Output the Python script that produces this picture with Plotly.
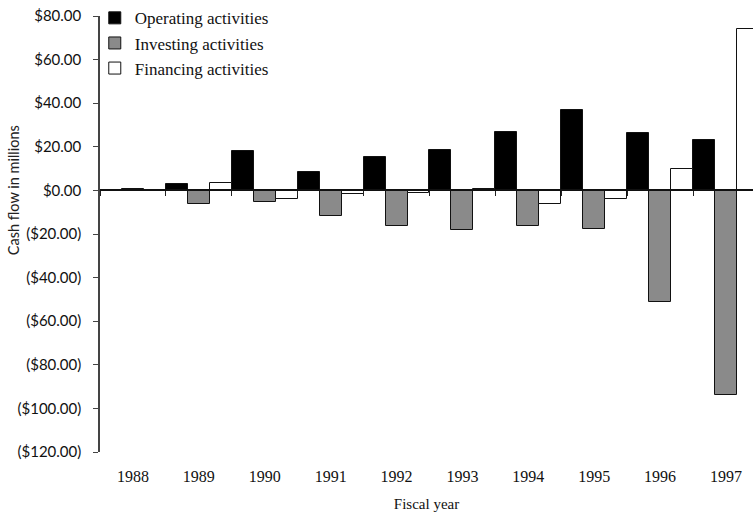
import plotly.graph_objects as go

# Fiscal years and cash flows (in $ millions)
years = ["1988", "1989", "1990", "1991", "1992", "1993", "1994", "1995", "1996", "1997"]
operating = [0.3, 3.1, 17.9, 8.4, 15.3, 18.4, 27.0, 36.9, 26.3, 22.9]
investing = [0.6, -6.1, -5.3, -11.9, -16.2, -18.3, -16.3, -17.5, -51.4, -93.8]
financing = [0.0, 3.5, -3.8, -1.5, -1.2, 0.5, -6.1, -3.8, 9.7, 74.0]

# Y axis ticks
y_ticks = [80, 60, 40, 20, 0, -20, -40, -60, -80, -100, -120]
y_tick_text = ["$80.00", "$60.00", "$40.00", "$20.00", "$0.00", "($20.00)",
               "($40.00)", "($60.00)", "($80.00)", "($100.00)", "($120.00)"]

series = [
    ("Operating activities", operating, "#000000"),
    ("Investing activities", investing, "#8a8a8a"),
    ("Financing activities", financing, "#ffffff"),
]

y_min, y_max = -120, 80
x_range = [-0.5, 9.41]
zero_pos = (0 - y_min) / (y_max - y_min)

serif = "Liberation Serif, Times New Roman, serif"
sans = "Lato, Open Sans, sans-serif"

fig = go.Figure()
for name, vals, color in series:
    fig.add_trace(go.Bar(
        x=years, y=vals, name=name,
        marker=dict(color=color, line=dict(color="#111111", width=1)),
    ))

fig.update_layout(
    width=753, height=513,
    margin=dict(l=100, r=0, t=14, b=61),
    paper_bgcolor="white", plot_bgcolor="white",
    barmode="group", bargap=0, bargroupgap=0,
    showlegend=True,
    legend=dict(
        x=-0.008, y=1.036, xanchor="left", yanchor="top",
        bgcolor="rgba(0,0,0,0)", borderwidth=0,
        font=dict(family=serif, size=17, color="#111111"),
        tracegroupgap=0,
    ),
    xaxis=dict(
        type="category", range=x_range,
        showline=False, ticks="", showgrid=False, zeroline=False,
        tickfont=dict(family=serif, size=16, color="#111111"),
        ticklabelstandoff=13,
        title=dict(text="Fiscal year", font=dict(family=serif, size=15, color="#111111"),
                   standoff=14),
    ),
    # axis line through zero with tick marks between the year groups
    xaxis2=dict(
        type="linear", overlaying="x", anchor="free", position=zero_pos,
        range=x_range, showgrid=False, zeroline=False,
        showline=True, linecolor="#111111", linewidth=2,
        ticks="outside", ticklen=5, tickwidth=1, tickcolor="#222222",
        tickvals=[i - 0.5 for i in range(len(years) + 1)],
        showticklabels=False,
    ),
    yaxis=dict(
        range=[y_min, y_max], showgrid=False, zeroline=False,
        showline=True, linecolor="#444444", linewidth=1.5,
        ticks="outside", ticklen=5, tickwidth=1, tickcolor="#444444",
        tickvals=y_ticks, ticktext=y_tick_text,
        tickfont=dict(family=sans, size=15, color="#111111"),
        ticklabelstandoff=9,
    ),
    annotations=[dict(
        text="Cash flow in millions", textangle=-90,
        xref="paper", yref="paper", x=-0.132, y=0.6,
        xanchor="center", yanchor="middle", showarrow=False,
        font=dict(family=sans, size=14.5, color="#222222"),
    )],
)

# invisible point so the zero axis (xaxis2) is rendered
fig.add_trace(go.Scatter(x=[0], y=[0], xaxis="x2", mode="markers",
                         marker=dict(opacity=0), showlegend=False, hoverinfo="skip"))

fig.write_html("out.html")
